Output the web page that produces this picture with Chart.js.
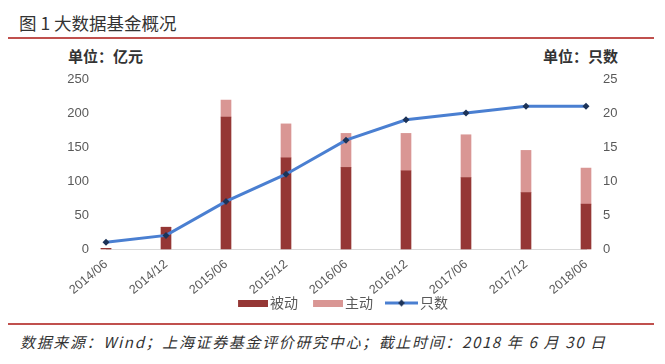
<!DOCTYPE html>
<html>
<head>
<meta charset="utf-8">
<script src="https://cdn.jsdelivr.net/npm/chart.js@4"></script>
<style>
  body { margin: 0; background: #fff; font-family: "Noto Sans CJK SC", sans-serif; }
  #wrap { position: relative; width: 665px; height: 364px; overflow: hidden; }
  .title { position: absolute; left: 19px; top: 11px; font-size: 17.5px; line-height: 24px; color: #333; white-space: nowrap; }
  .rule { position: absolute; left: 8px; width: 646px; height: 2px; background: #c0504d; }
  .unit { position: absolute; top: 46px; font-size: 15px; line-height: 20px; font-weight: bold; color: #333; white-space: nowrap; }
  .src { position: absolute; left: 20px; top: 331px; font-size: 15px; line-height: 22px; letter-spacing: 1.65px; font-style: italic; color: #333; white-space: nowrap; }
  #box { position: absolute; left: 0; top: 65px; width: 665px; height: 255px; }
</style>
</head>
<body>
<div id="wrap">
  <div class="title">图 1 大数据基金概况</div>
  <div class="rule" style="top:37px"></div>
  <div class="unit" style="left:68px">单位：亿元</div>
  <div class="unit" style="right:47px">单位：只数</div>
  <div id="box"><canvas id="c"></canvas></div>
  <div class="rule" style="top:323px"></div>
  <div class="src">数据来源：Wind；上海证券基金评价研究中心；截止时间：2018 年 6 月 30 日</div>
</div>
<script>
// 데이터
const periods = ["2014/06", "2014/12", "2015/06", "2015/12", "2016/06", "2016/12", "2017/06", "2017/12", "2018/06"];
const passive = [1, 32, 194, 134, 120, 115, 105, 83, 66];   // 被动 (亿元)
const active  = [0, 0, 25, 50, 50, 55, 63, 62, 53];         // 主动 (亿元)
const counts  = [1, 2, 7, 11, 16, 19, 20, 21, 21];          // 只数

const C_PASSIVE = "#953735";
const C_ACTIVE  = "#d99694";
const C_LINE    = "#4a7fd1";
const C_MARK    = "#1c3358";
const TICK_FONT = "'Liberation Sans', Arial, sans-serif";

// 범례 아이콘 (48px 폭, 내용은 오른쪽 끝에 붙임)
function barIcon(color) {
  const c = document.createElement("canvas");
  c.width = 48; c.height = 7;
  const g = c.getContext("2d");
  g.fillStyle = color; g.fillRect(18, 0, 30, 7);
  return c;
}
function lineIcon() {
  const c = document.createElement("canvas");
  c.width = 48; c.height = 9;
  const g = c.getContext("2d");
  g.strokeStyle = C_LINE; g.lineWidth = 3;
  g.beginPath(); g.moveTo(15, 4.5); g.lineTo(48, 4.5); g.stroke();
  g.fillStyle = C_MARK;
  g.beginPath(); g.moveTo(31.5, 1); g.lineTo(35, 4.5); g.lineTo(31.5, 8); g.lineTo(28, 4.5); g.closePath(); g.fill();
  return c;
}
const icons = [barIcon(C_PASSIVE), barIcon(C_ACTIVE), lineIcon()];

new Chart(document.getElementById("c").getContext("2d"), {
  type: "bar",
  data: {
    labels: periods,
    datasets: [
      { label: "被动", data: passive, backgroundColor: C_PASSIVE, stack: "s", yAxisID: "y",
        barThickness: 10, order: 1, clip: false },
      { label: "主动", data: active, backgroundColor: C_ACTIVE, stack: "s", yAxisID: "y",
        barThickness: 10, order: 1, clip: false },
      { type: "line", label: "只数", data: counts, yAxisID: "y1", order: 0, clip: false,
        borderColor: C_LINE, borderWidth: 3, tension: 0,
        pointStyle: "rectRot", pointRadius: 3.5, pointBackgroundColor: C_MARK, pointBorderColor: C_MARK, pointBorderWidth: 0 }
    ]
  },
  options: {
    responsive: true, maintainAspectRatio: false, animation: false,
    layout: { padding: { top: 14, left: 8, right: 0, bottom: 0 } },
    plugins: {
      tooltip: { enabled: false },
      legend: {
        position: "bottom",
        labels: {
          usePointStyle: true, pointStyleWidth: 38, boxHeight: 7, padding: 2,
          color: "#595959", font: { size: 14, family: "'Noto Sans CJK SC', sans-serif" },
          sort: (a, b) => a.datasetIndex - b.datasetIndex,
          generateLabels: chart => Chart.defaults.plugins.legend.labels.generateLabels(chart)
            .map(it => Object.assign(it, { pointStyle: icons[it.datasetIndex], rotation: 0 }))
        }
      }
    },
    scales: {
      x: {
        stacked: true, offset: false,
        grid: { display: false, drawTicks: false },
        border: { display: true, color: "#d9d9d9", width: 1 },
        ticks: { color: "#595959", font: { size: 12.5, family: TICK_FONT }, minRotation: 40, maxRotation: 40, padding: 8, autoSkip: false },
        afterFit: s => { s.height = 45; }
      },
      y: {
        stacked: true, position: "left", min: 0, max: 250,
        grid: { display: false, drawTicks: true, tickLength: 15 },
        border: { display: false },
        ticks: { stepSize: 50, color: "#595959", font: { size: 13, family: TICK_FONT }, padding: 2 },
        afterFit: s => { s.width = 98; }
      },
      y1: {
        position: "right", min: 0, max: 25,
        grid: { display: false, drawTicks: true, tickLength: 15 },
        border: { display: false },
        ticks: { stepSize: 5, color: "#595959", font: { size: 13, family: TICK_FONT }, padding: 2 },
        afterFit: s => { s.width = 79; }
      }
    }
  }
});
</script>
</body>
</html>
